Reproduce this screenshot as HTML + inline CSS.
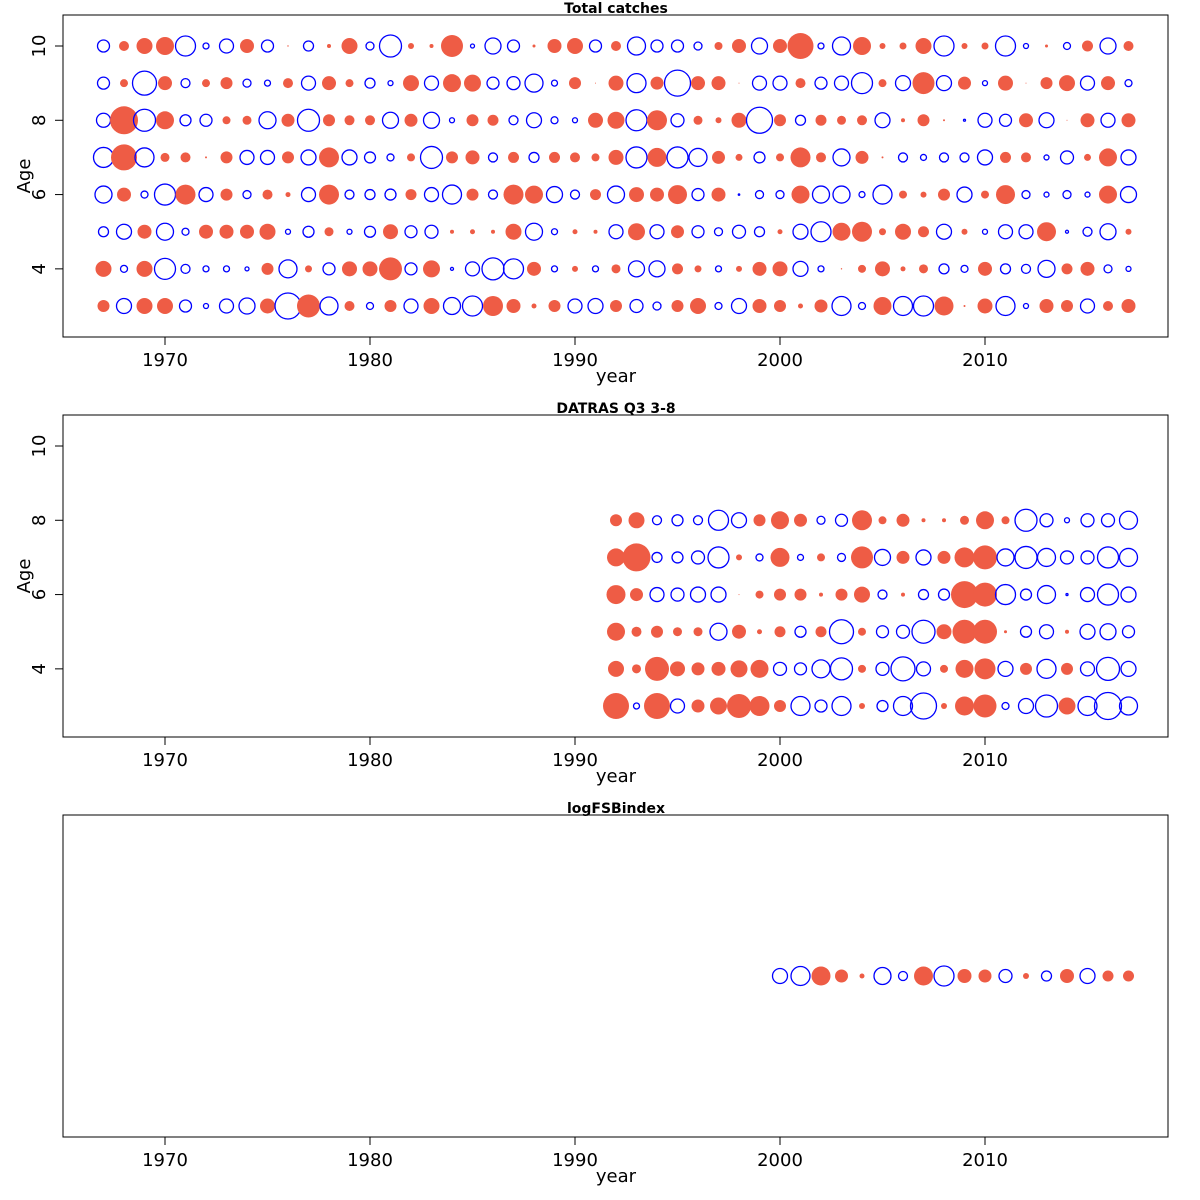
<!DOCTYPE html>
<html><head><meta charset="utf-8">
<style>
html,body{margin:0;padding:0;background:#fff;}
svg{display:block;font-family:"DejaVu Sans","Liberation Sans",sans-serif;}
</style></head>
<body>
<svg id="chart" width="1200" height="1200" viewBox="0 0 1200 1200" xmlns="http://www.w3.org/2000/svg"></svg>
<script>
// ---- data (signed residuals; radius proportional to |value|, red = positive, blue = negative) ----
const yearsCatch = [];
for (let y = 1967; y <= 2017; y++) yearsCatch.push(y);
const catchAge3 = [6,-7.5,8,8,-6,-2.5,-7,-8,7.5,-13,11.5,-9,5,-3.5,6,-7,8,-8.5,-10,10,7,2.5,6,-7,-7.5,6,-6.5,-4,6,8,-3.5,-7.5,7,6,2.5,6.5,-9.5,-3.5,9,-9.5,-10,9.5,1,7.5,-9.5,-2.5,7,6,-7,5,7];
const catchAge4 = [8,-3.5,8,-10.5,-4.5,-3,-3,-2,6,-9,3.5,-6,7.5,7.5,11.5,-6,8.5,-1.5,-7,-11,-10,7,-3,3,-3,4.5,-8,-8,5.5,3.5,-3,3,7,7.5,-7.5,-3,0.7,4,7.5,2.5,4.5,-5,-3.5,7,-5,-4.5,-8.5,5.5,7,-4,-2.5];
const catchAge5 = [-5,-7.5,7,-8.5,-3.5,7,7,7,8,-2.5,-5.5,4.5,-2.5,-5.5,7.5,-6,-6.5,2,2.5,2,8,-8.5,-3,2.5,2,-7,8.5,-7,6.5,-6,-4,-6.5,-5,2.5,-7.5,-10,9,10,3.5,8,5.5,-7.5,3,-2.5,-7,-7,9.5,-1.5,-4.5,-8,3];
const catchAge6 = [-8.5,7,-3.5,-10.5,10,-7,6,-4,5,2.5,-7,10,-4.5,-5,-5.5,5.5,-7,-9.5,6,-4.5,10,9,-8,-4.5,5.5,-8.5,7.5,7,9.5,-6,7,-0.7,-4,-4,9,-8.5,-8.5,-3,-9.5,4,3,6,-7.5,4,9.5,-4,-2.5,-4,-2.5,9,-8];
const catchAge7 = [-10,13,-9.5,4.5,5,1,6,-7,-7,6,-7.5,10,-7.5,-5.5,-3.5,4,-11,6,7,-4.5,5.5,-5,5.5,5,4,7.5,-10.5,9.5,-10.5,-9,6.5,3.5,-5.5,4,10,5,-8.5,6.5,1,-4.5,-3,-4.5,-4.5,-7.5,5.5,5,-2.5,-6.5,3.5,9,-7.5];
const catchAge8 = [-7,14,-11,9,-5.5,-6,4,4.5,-8.5,6.5,-11,6,5,5,-8,6.5,-8,-2.5,6,5.5,-4.5,-7.5,-3.5,-2.5,7.5,8.5,-10.5,10,-6.5,4.5,3,7.5,-13,6,-5,5.5,4.5,5,-7.5,2,6,1,-1,-7,-6,7,-7.5,0.5,7,-7,7];
const catchAge9 = [-6,4,-12,7,-4.5,4,6,-4,-3,5,-7,7,4,-5,-2.5,8,-7,9,8.5,-6,-6.5,-9,-3,6,0.5,7.5,-9.5,6.5,-13,7,7,0.5,-7,-7,5,-6,-7,-10.5,4,-7.5,11,-7.5,6.5,-2.5,7.5,0.5,6,8,-7,7,-3.5];
const catchAge10 = [-6,5,8,9,-10,-3,-7,7,-6,0.7,-5,2,8,-4,-11,3,2,11,-2,-8,-6,1.5,7,8,-6,5,-9,-6,-6,-4,4,7,-8,7,13,-3,-9,9,3,3.5,8,-10,3,3.5,-10,-2.5,1.5,-3.5,5.5,-8,5];

const yearsSurvey = [];
for (let y = 1992; y <= 2017; y++) yearsSurvey.push(y);
const surveyAge3 = [13,-3,13,-7,6.5,8.5,12,10,6,-9.5,-6,-9.5,3,-5.5,-9.5,-13,3,9.5,11.5,-3.5,-7.5,-11,8.5,-9.5,-13.5,-9];
const surveyAge4 = [8,4.5,12,7.5,6.5,7,8.5,9,-6.5,-6,-9,-11,4,-6.5,-12,-7,4,9,10.5,-7.5,6,-9.5,6,-7,-11.5,-7.5];
const surveyAge5 = [9,5,6,4.5,4.5,-8.5,7,2.5,5.5,-5.5,5.5,-12,4,-6,-6.5,-11.5,7.5,12,12,1.5,-5.5,-7,2,-7.5,-8,-6];
const surveyAge6 = [9.5,6.5,-7,-6.5,-7.5,-7.5,0.5,4,6,6,2,6,8,-4.5,2,-5,-5.5,13.5,12,-10,-5.5,-9,-1,-7,-10.5,-7.5];
const surveyAge7 = [9,14,-5,-5.5,-6.5,-10.5,3,-3.5,9.5,-3,4,-4,11,-8,6.5,-7.5,6.5,10,12,-8.5,-11,-9,-6.5,-6.5,-10.5,-9];
const surveyAge8 = [6,8,-4.5,-5.5,-4.5,-10,-7.5,6,9,6.5,-4,-6,10,4,6.5,2,2,4.5,9,4,-11,-6.5,-2.5,-6.5,-6.5,-9];

const yearsFSB = [];
for (let y = 2000; y <= 2017; y++) yearsFSB.push(y);
const fsbIndex = [-7.5,-9.5,9.5,6.5,2.5,-8.5,-4.5,9.5,-10,7,6.5,-6.5,3,-5,7,-7.5,5.5,5.5];

const xTicks = [1970,1980,1990,2000,2010];
const yTicks = [4,6,8,10];
const panelTitles = ["Total catches","DATRAS Q3 3-8","logFSBindex"];

// ---- layout ----
const NS = "http://www.w3.org/2000/svg";
const svg = document.getElementById('chart');
const L = 63, R = 1168;
const panelTops = [15, 415, 815];
const PH = 322;
function xScale(yr){ return 165 + (yr - 1970) * 20.5; }
function yScale(top, age){ return top + 31 + (10 - age) * (260 / 7); }
function mk(tag, attrs){ const e = document.createElementNS(NS, tag); for (const k in attrs) e.setAttribute(k, attrs[k]); return e; }

function drawBubbles(g, years, vals, yPos, label){
  years.forEach((yr, i) => {
    const v = vals[i];
    const r = Math.abs(v);
    const c = mk('circle', {cx: xScale(yr), cy: yPos, r: Math.max(r, 0.4)});
    if (v >= 0) { c.setAttribute('fill', '#EE5C45'); c.setAttribute('stroke', 'none'); }
    else { c.setAttribute('fill', 'none'); c.setAttribute('stroke', '#0000FF'); c.setAttribute('stroke-width', '1.3'); }
    
    
    g.appendChild(c);
  });
}

panelTops.forEach((top, p) => {
  const g = mk('g', {});
  
  
  svg.appendChild(g);

  const box = mk('rect', {x: L, y: top, width: R - L, height: PH, fill: 'none', stroke: '#000', 'stroke-width': 1});
  
  
  g.appendChild(box);

  const t = mk('text', {x: 616, y: top - 2, 'text-anchor': 'middle', 'font-size': 14, 'font-weight': 'bold'});
  t.textContent = panelTitles[p];
  
  
  g.appendChild(t);

  xTicks.forEach(v => {
    const x = xScale(v);
    const tk = mk('line', {x1: x, x2: x, y1: top + PH, y2: top + PH + 8, stroke: '#000'});
    
    
    g.appendChild(tk);
    const tl = mk('text', {x: x, y: top + PH + 29, 'text-anchor': 'middle', 'font-size': 18});
    tl.textContent = v;
    
    
    g.appendChild(tl);
  });
  const xl = mk('text', {x: 616, y: top + PH + 45, 'text-anchor': 'middle', 'font-size': 18});
  xl.textContent = 'year';
  
  
  g.appendChild(xl);

  if (p < 2) {
    yTicks.forEach(v => {
      const y = yScale(top, v);
      const tk = mk('line', {x1: L - 8, x2: L, y1: y, y2: y, stroke: '#000'});
      
      
      g.appendChild(tk);
      const tl = mk('text', {x: 45, y: y, 'text-anchor': 'middle', 'font-size': 18, transform: 'rotate(-90 45 ' + y + ')'});
      tl.textContent = v;
      
      
      g.appendChild(tl);
    });
    const yc = top + 161;
    const yl = mk('text', {x: 30, y: yc, 'text-anchor': 'middle', 'font-size': 18, transform: 'rotate(-90 30 ' + yc + ')'});
    yl.textContent = 'Age';
    
    
    g.appendChild(yl);
  }

  if (p === 0) {
    const rows = [catchAge3, catchAge4, catchAge5, catchAge6, catchAge7, catchAge8, catchAge9, catchAge10];
    rows.forEach((row, i) => drawBubbles(g, yearsCatch, row, yScale(top, 3 + i), 'catch-age' + (3 + i)));
  } else if (p === 1) {
    const rows = [surveyAge3, surveyAge4, surveyAge5, surveyAge6, surveyAge7, surveyAge8];
    rows.forEach((row, i) => drawBubbles(g, yearsSurvey, row, yScale(top, 3 + i), 'survey-age' + (3 + i)));
  } else {
    drawBubbles(g, yearsFSB, fsbIndex, top + 161, 'fsb-index');
  }
});
</script>
</body></html>
